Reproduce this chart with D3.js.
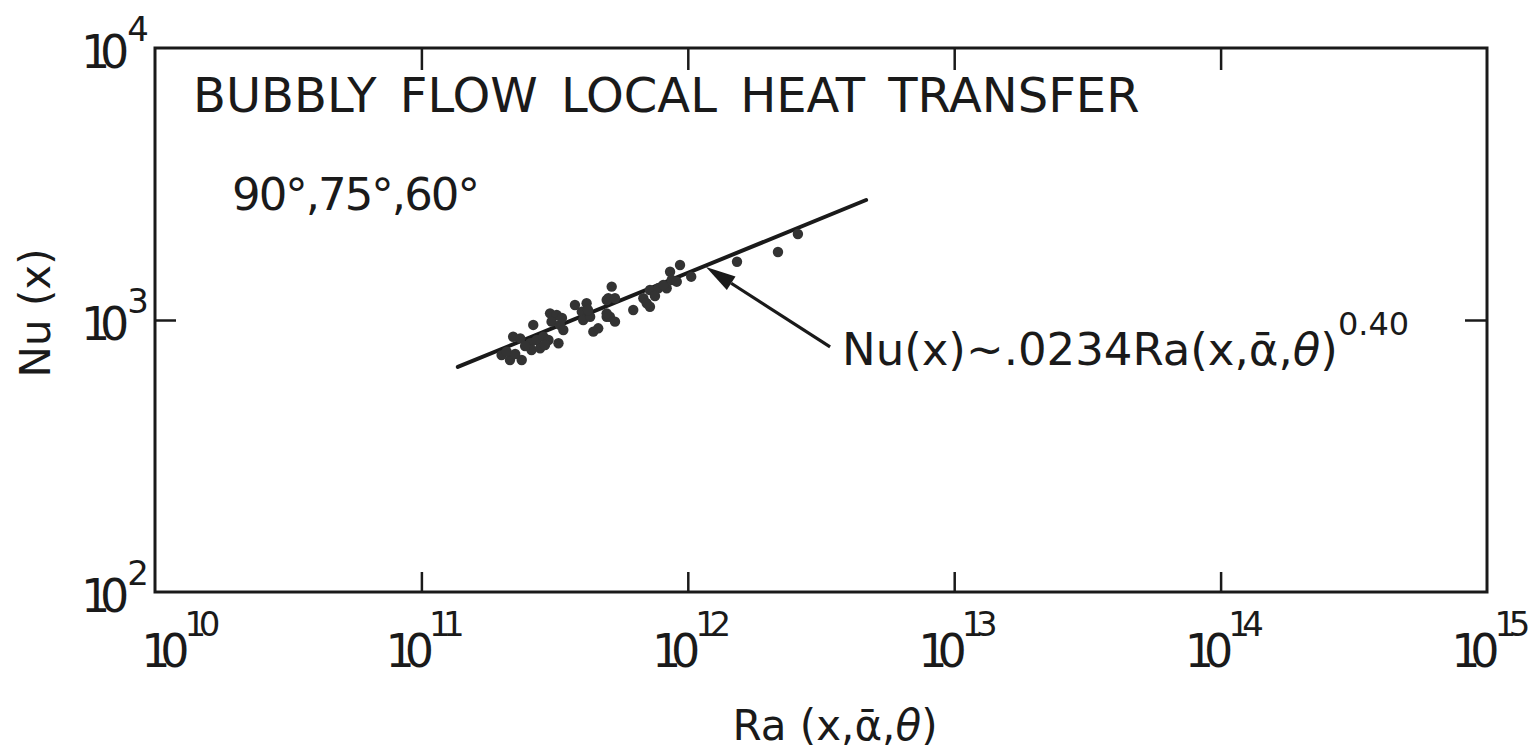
<!DOCTYPE html>
<html>
<head>
<meta charset="utf-8">
<script src="https://cdn.jsdelivr.net/npm/d3@7"></script>
<style>
  html, body { margin: 0; padding: 0; background: #fff; }
  svg { display: block; }
  text { font-family: "DejaVu Sans", sans-serif; fill: #1a1a1a; }
</style>
</head>
<body>
<svg id="chart" width="1532" height="756"></svg>
<script>
// ---- data ----
const raValues = [2.00e11, 2.15e11, 2.38e11, 2.09e11, 2.21e11, 2.35e11, 2.56e11, 2.71e11, 2.87e11, 2.59e11,
                  2.79e11, 3.00e11, 2.63e11, 3.27e11, 3.04e11, 3.22e11, 3.08e11, 3.31e11, 3.41e11, 3.77e11,
                  4.17e11, 4.00e11, 4.05e11, 4.30e11, 4.42e11, 4.61e11, 4.96e11, 4.96e11, 5.18e11, 5.03e11,
                  5.33e11, 5.10e11, 5.33e11, 4.96e11, 6.24e11, 7.21e11, 6.81e11, 7.21e11, 7.01e11, 7.75e11,
                  8.33e11, 8.09e11, 8.58e11, 8.70e11, 9.09e11, 9.35e11, 1.03e12, 1.53e12, 2.18e12, 2.59e12,
                  2.45e11, 2.91e11, 2.25e11, 3.37e11, 4.22e11, 7.53e11];
const nuValues = [743, 713, 713, 765, 868, 856, 821, 844, 868, 776,
                  787, 844, 959, 821, 1058, 1043, 986, 959, 919, 1135,
                  1152, 1073, 1000, 1028, 906, 932, 1028, 1185, 1326, 1202,
                  1202, 1028, 986, 1058, 1088, 1289, 1202, 1119, 1152, 1308,
                  1308, 1345, 1505, 1403, 1383, 1593, 1443, 1638, 1778, 2071,
                  802, 809, 750, 1017, 1088, 1225];
const fitRa = [1.37e11, 4.67e12];
const fitNu = [672, 2762];
const arrowRa = [3.42e12, 1.17e12];   // tail, tip
const arrowNu = [796, 1566];
const xTickValues = [1e10, 1e11, 1e12, 1e13, 1e14, 1e15];
const xTickExps = ["10", "11", "12", "13", "14", "15"];
const yTickValues = [1e2, 1e3, 1e4];
const yTickExps = ["2", "3", "4"];
const titleText = "BUBBLY FLOW LOCAL HEAT TRANSFER";
const anglesText = "90°,75°,60°";
const yTitle = "Nu (x)";

// ---- layout ----
const L = 155, R = 1487, T = 48, B = 592;
const svg = d3.select("#chart");
const x = d3.scaleLog().domain([1e10, 1e15]).range([L, R]);
const y = d3.scaleLog().domain([1e2, 1e4]).range([B, T]);
const ink = "#1a1a1a";

// frame
svg.append("rect").attr("x", L).attr("y", T).attr("width", R - L).attr("height", B - T)
  .attr("fill", "none").attr("stroke", ink).attr("stroke-width", 3);

// ticks via axes
const inner = xTickValues.slice(1, -1);
const gb = svg.append("g").attr("transform", `translate(0,${B})`)
  .call(d3.axisBottom(x).tickValues(inner).tickSize(-20).tickFormat(""));
const gt = svg.append("g").attr("transform", `translate(0,${T})`)
  .call(d3.axisTop(x).tickValues(inner).tickSize(-22).tickFormat(""));
const gl = svg.append("g").attr("transform", `translate(${L},0)`)
  .call(d3.axisLeft(y).tickValues([1e3]).tickSize(-21).tickFormat(""));
const gr = svg.append("g").attr("transform", `translate(${R},0)`)
  .call(d3.axisRight(y).tickValues([1e3]).tickSize(-22).tickFormat(""));
[gb, gt, gl, gr].forEach(g => {
  g.select(".domain").remove();
  g.selectAll(".tick line").attr("stroke", ink).attr("stroke-width", 2.5);
});

// power-of-ten label with a narrow "1" like the stencil lettering
function powerLabel(t, exp, baseSize, supSize, supDy) {
  const startsWithOne = exp[0] === "1";
  t.attr("font-size", baseSize);
  t.append("tspan").attr("letter-spacing", -0.22 * baseSize).text("10");
  t.append("tspan").attr("font-size", supSize).attr("dy", supDy)
    .attr("dx", 0.22 * baseSize - (startsWithOne ? 5 : 2))
    .attr("letter-spacing", exp.length > 1 && startsWithOne ? -0.22 * supSize : 0)
    .text(exp);
}

// x tick labels
xTickValues.forEach((v, i) => {
  const t = svg.append("text")
    .attr("x", x(v) + (i === 0 ? 22 : 0)).attr("y", 667)
    .attr("text-anchor", "middle");
  powerLabel(t, xTickExps[i], 46, 34, -31);
});
// y tick labels
yTickValues.forEach((v, i) => {
  const t = svg.append("text")
    .attr("x", 149).attr("y", y(v) + 20)
    .attr("text-anchor", "end");
  powerLabel(t, yTickExps[i], 46, 34, -27);
});

// axis titles
const xt = svg.append("text").attr("x", 835).attr("y", 740).attr("text-anchor", "middle")
  .attr("font-size", 42);
xt.append("tspan").text("Ra (x,ᾱ,");
xt.append("tspan").attr("font-style", "italic").text("θ");
xt.append("tspan").text(")");
svg.append("text").attr("transform", "translate(50,313) rotate(-90)")
  .attr("text-anchor", "middle").attr("font-size", 42).text(yTitle);

// in-plot texts
svg.append("text").attr("x", 193).attr("y", 112).attr("font-size", 48)
  .attr("word-spacing", 8).text(titleText);
svg.append("text").attr("x", 232).attr("y", 210).attr("font-size", 45)
  .attr("letter-spacing", -2).text(anglesText);

// fit line
svg.append("path")
  .datum(fitRa.map((r, i) => [r, fitNu[i]]))
  .attr("d", d3.line().x(d => x(d[0])).y(d => y(d[1])))
  .attr("fill", "none").attr("stroke", ink).attr("stroke-width", 4).attr("stroke-linecap", "round");

// data points
svg.append("g").selectAll("circle")
  .data(raValues.map((r, i) => [r, nuValues[i]]))
  .join("circle")
  .attr("cx", d => x(d[0])).attr("cy", d => y(d[1])).attr("r", 5.2)
  .attr("fill", "#333");

// arrow
const tail = [x(arrowRa[0]), y(arrowNu[0])];
const tip = [x(arrowRa[1]), y(arrowNu[1])];
const ang = Math.atan2(tail[1] - tip[1], tail[0] - tip[0]);
const hl = 30, hw = 8;
const base = [tip[0] + hl * Math.cos(ang), tip[1] + hl * Math.sin(ang)];
svg.append("line").attr("x1", tail[0]).attr("y1", tail[1]).attr("x2", base[0]).attr("y2", base[1])
  .attr("stroke", ink).attr("stroke-width", 3.2);
svg.append("path")
  .attr("d", d3.line()([
    tip,
    [base[0] - hw * Math.sin(ang), base[1] + hw * Math.cos(ang)],
    [base[0] + hw * Math.sin(ang), base[1] - hw * Math.cos(ang)]
  ]) + "Z")
  .attr("fill", ink);

// formula
const f = svg.append("text").attr("x", 842).attr("y", 365).attr("font-size", 45);
f.append("tspan").text("Nu(x)~.0234Ra(x,ᾱ,");
f.append("tspan").attr("font-style", "italic").text("θ");
f.append("tspan").text(")");
f.append("tspan").attr("font-size", 32).attr("dy", -30).text("0.40");
</script>
</body>
</html>
